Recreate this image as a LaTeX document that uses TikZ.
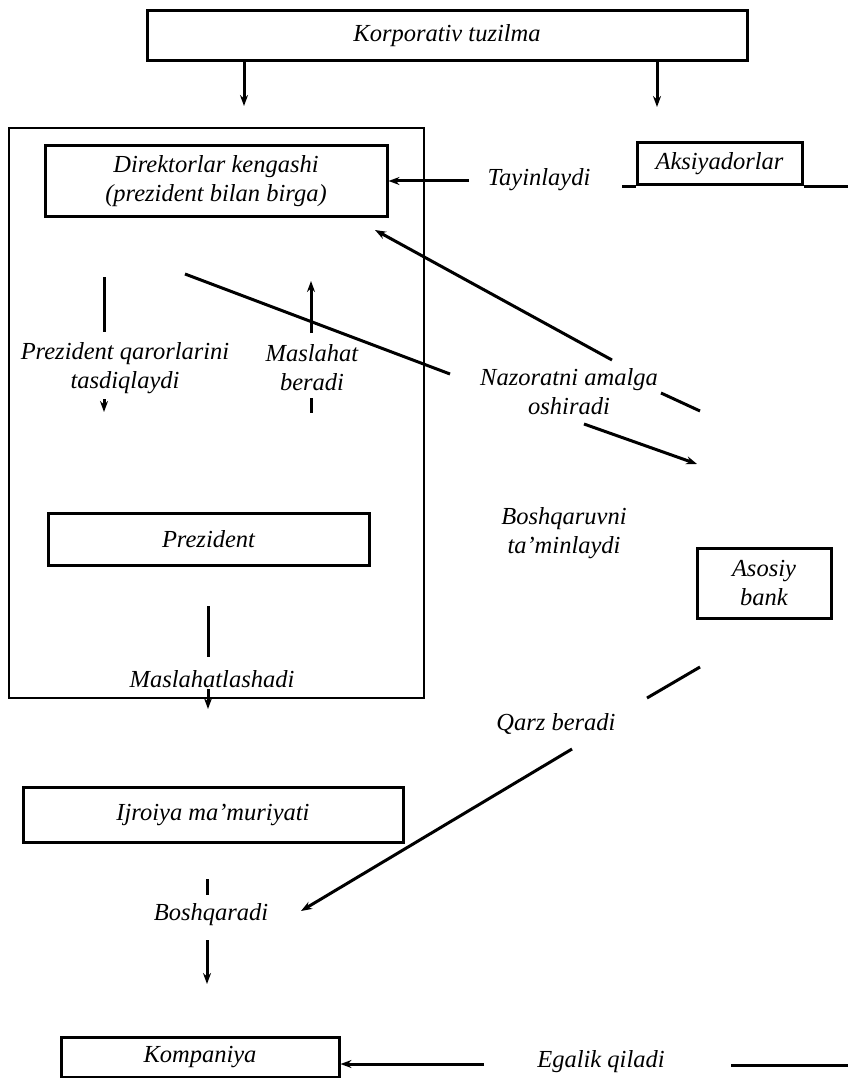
\documentclass[tikz,border=0pt]{standalone}
\usepackage{fontspec}
\setmainfont{Liberation Serif}
\usetikzlibrary{arrows.meta}

\tikzset{
  blok/.style={draw, line width=3pt, inner sep=0pt, align=center},
  yozuv/.style={align=center, inner sep=0pt},
  chiziq/.style={line width=3pt},
  >={Stealth[length=11pt,width=8pt]}
}

\begin{document}
\begin{tikzpicture}[x=1pt, y=-1pt, every node/.style={font=\itshape\fontsize{24.5}{29}\selectfont}]
                \useasboundingbox (0,0) rectangle (848,1078);

                % Boxes
                \node at (447,36) (korp) [blok, minimum width=600, minimum height=50] {Korporativ tuzilma};
                \node at (216.5,413) (kengash) [draw, line width=1.6pt, minimum width=415, minimum height=570] {};
                \node at (216,181) (direktor) [blok, minimum width=342, minimum height=70] {Direktorlar kengashi\\(prezident bilan birga)};
                \node at (719.5,164) (aksiya) [blok, minimum width=165, minimum height=42] {Aksiyadorlar};
                \node at (208.5,539) (prezident) [blok, minimum width=321, minimum height=52] {Prezident};
                \node at (764,583) (bank) [blok, minimum width=134, minimum height=70] {Asosiy\\bank};
                \node at (213,814.5) (ijroiya) [blok, minimum width=380, minimum height=55] {Ijroiya ma’muriyati};
                \node at (200,1057) (kompaniya) [blok, minimum width=278, minimum height=40] {Kompaniya};

                % Labels
                \node at (539,180) (tayin) [yozuv] {Tayinlaydi};
                \node at (125,368) (qaror) [yozuv] {Prezident qarorlarini\\tasdiqlaydi};
                \node at (312,368) (maslahat) [yozuv] {Maslahat\\beradi};
                \node at (569,392) (nazorat) [yozuv] {Nazoratni amalga\\oshiradi};
                \node at (564,533) (taminlash) [yozuv] {Boshqaruvni\\ta’minlaydi};
                \node at (212,679) (kelishuv) [yozuv] {Maslahatlashadi};
                \node at (556,724) (qarz) [yozuv] {Qarz beradi};
                \node at (211,915) (boshqaradi) [yozuv] {Boshqaradi};
                \node at (601,1062) (egalik) [yozuv] {Egalik qiladi};

                % Arrows
                \draw[->, chiziq] (korp.south -| 244,0) -- (244,106);
                \draw[->, chiziq] (korp.south -| 657,0) -- (657,107);
                \draw[->, chiziq] (469,181) -- (direktor.east);
                \draw[chiziq] (aksiya.south west) -- ++(-14,0);
                \draw[chiziq] (aksiya.south east) -- (aksiya.south east -| 848,0);

                \draw[chiziq] (104,277) -- (104,332);
                \draw[->, chiziq] (104,399) -- (104,412);
                \draw[->, chiziq] (311,333) -- (311,281);
                \draw[chiziq] (311,398) -- (311,413);

                \draw[chiziq] (185,274) -- (450,374);
                \draw[->, chiziq] (612,360) -- (375,230);
                \draw[chiziq] (661,393) -- (700,411);
                \draw[->, chiziq] (584,424) -- (697,464);

                \draw[chiziq] (208,606) -- (208,657);
                \draw[->, chiziq] (208,689) -- (208,709);

                \draw[chiziq] (700,667) -- (647,698);
                \draw[->, chiziq] (572,749) -- (301,911);

                \draw[chiziq] (207,879) -- (207,895);
                \draw[->, chiziq] (207,940) -- (207,984);

                \draw[->, chiziq] (484,1064) -- (kompaniya.east |- 0,1064);
                \draw[chiziq] (731,1065) -- (848,1065);

            \end{tikzpicture}
\end{document}
